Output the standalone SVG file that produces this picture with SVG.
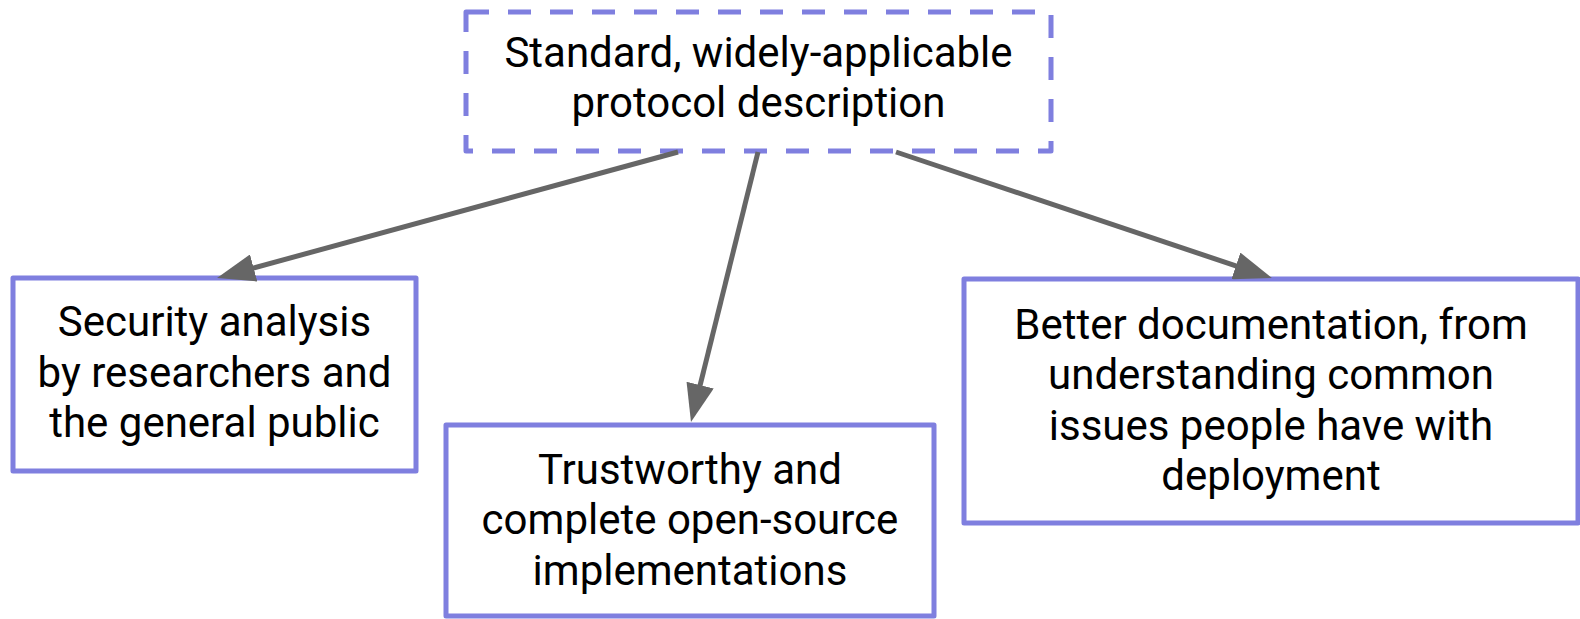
<svg xmlns="http://www.w3.org/2000/svg" width="1580" height="619" viewBox="0 0 1580 619">
<defs>
<style>
.box{fill:#ffffff;stroke:#7f7fdf;stroke-width:5;stroke-linejoin:round}
.dash{stroke-dasharray:23 19}
.t{font-family:Roboto,"Liberation Sans",sans-serif;font-size:42px;fill:#000000;text-anchor:middle}
.edge{stroke:#666666;stroke-width:5;fill:none;marker-end:url(#ah)}
</style>
<marker id="ah" markerUnits="userSpaceOnUse" viewBox="0 0 38 28" markerWidth="38" markerHeight="28" refX="18" refY="14" orient="auto">
<path d="M0,0 L38,14 L0,28 z" fill="#666666"/>
</marker>
</defs>
<rect width="1580" height="619" fill="#ffffff"/>
<g id="n-top">
<rect class="box dash" x="466" y="12" width="585" height="139"/>
<text class="t" x="758.5" y="66.5">Standard, widely-applicable</text>
<text class="t" x="758.5" y="117">protocol description</text>
</g>
<g id="n-security">
<rect class="box" x="13" y="278" width="403" height="193"/>
<text class="t" x="214.5" y="336">Security analysis</text>
<text class="t" x="214.5" y="386.5">by researchers and</text>
<text class="t" x="214.5" y="437">the general public</text>
</g>
<g id="n-impl">
<rect class="box" x="446" y="425" width="488" height="191"/>
<text class="t" x="690" y="483.5">Trustworthy and</text>
<text class="t" x="690" y="534">complete open-source</text>
<text class="t" x="690" y="584.5">implementations</text>
</g>
<g id="n-docs">
<rect class="box" x="964" y="279" width="614" height="244"/>
<text class="t" x="1271" y="338.5">Better documentation, from</text>
<text class="t" x="1271" y="389">understanding common</text>
<text class="t" x="1271" y="439.5">issues people have with</text>
<text class="t" x="1271" y="490">deployment</text>
</g>
<g id="connectors">
<line class="edge" x1="678" y1="152" x2="236.3" y2="272.7"/>
<line class="edge" x1="758" y1="152" x2="695.8" y2="402.6"/>
<line class="edge" x1="896" y1="152" x2="1253" y2="271.6"/>
</g>
</svg>
